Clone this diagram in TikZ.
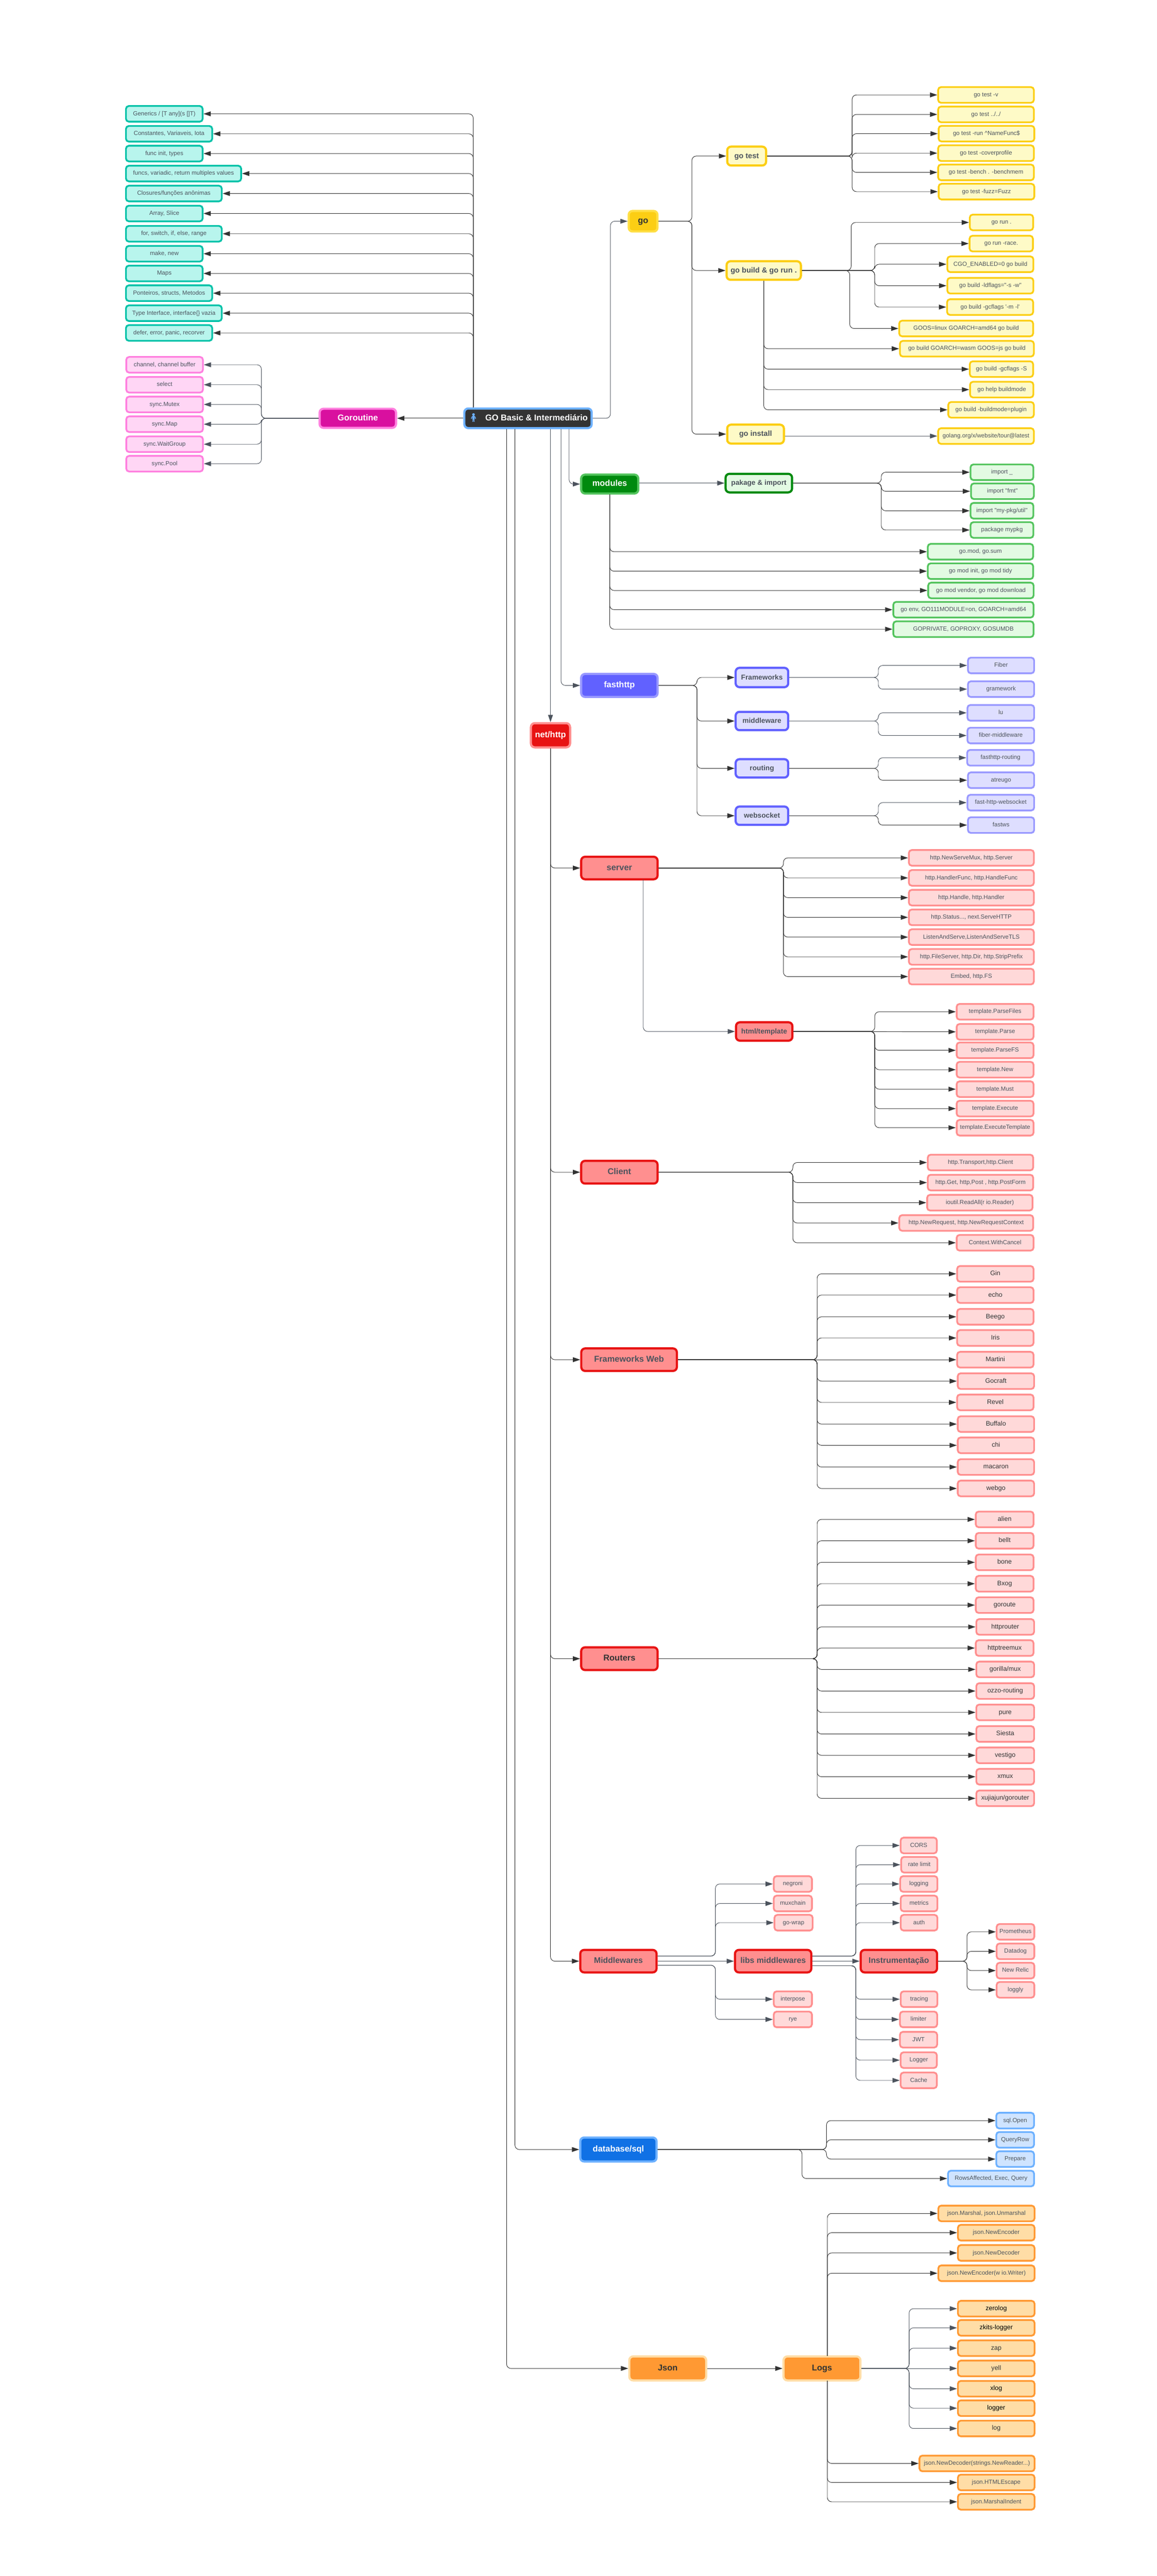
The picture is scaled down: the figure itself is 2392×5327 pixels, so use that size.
\documentclass[tikz,border=0pt]{standalone}
\usepackage{fontspec}
\setmainfont{Liberation Sans}[Ligatures=TeXOff]
\newfontfamily\emojifont{Noto Emoji}
\usetikzlibrary{arrows.meta}

\definecolor{tealedge}{HTML}{00C2A8}
\definecolor{tealfill}{HTML}{B8F5ED}
\definecolor{pinkedge}{HTML}{FF80DF}
\definecolor{pinkfill}{HTML}{FFD6F5}
\definecolor{magenta}{HTML}{D9109F}
\definecolor{goedge}{HTML}{FCCE14}
\definecolor{gofill}{HTML}{FEFAC7}
\definecolor{golight}{HTML}{FFDF45}
\definecolor{greenedge}{HTML}{54C45E}
\definecolor{greenfill}{HTML}{E3FAE3}
\definecolor{greendark}{HTML}{008A0E}
\definecolor{violetedge}{HTML}{9999FF}
\definecolor{violetfill}{HTML}{DEDEFF}
\definecolor{violetdark}{HTML}{6161FF}
\definecolor{rededge}{HTML}{FF8F8F}
\definecolor{redfill}{HTML}{FFD9D9}
\definecolor{reddark}{HTML}{E81313}
\definecolor{blueedge}{HTML}{6DB1FF}
\definecolor{bluefill}{HTML}{CFE4FF}
\definecolor{bluedark}{HTML}{1071E5}
\definecolor{orangeedge}{HTML}{FF9933}
\definecolor{orangefill}{HTML}{FFDDA6}
\definecolor{ink}{HTML}{4C535D}
\definecolor{darkink}{HTML}{333333}

\newcommand{\leaffont}{\fontsize{12.3}{14}\selectfont}
\newcommand{\namefont}{\fontsize{13.4}{15}\selectfont}
\newcommand{\subfont}{\fontsize{15.5}{17}\selectfont\bfseries}
\newcommand{\smallsubfont}{\fontsize{14.6}{17}\selectfont\bfseries}
\newcommand{\midfont}{\fontsize{16.8}{19}\selectfont\bfseries}
\newcommand{\topfont}{\fontsize{17.5}{20}\selectfont\bfseries}

\tikzset{
  leaf/.style={rounded corners=6, line width=3.6, minimum height=32.4, inner sep=0,
    font=\leaffont, text=ink, text height=9, text depth=2.5, anchor=east},
  tealleaf/.style={leaf, draw=tealedge, fill=tealfill, anchor=west},
  pinkleaf/.style={leaf, draw=pinkedge, fill=pinkfill, anchor=west},
  goleaf/.style={leaf, draw=goedge, fill=gofill},
  greenleaf/.style={leaf, draw=greenedge, fill=greenfill},
  violetleaf/.style={leaf, draw=violetedge, fill=violetfill},
  redleaf/.style={leaf, draw=rededge, fill=redfill},
  nameleaf/.style={redleaf, font=\namefont, text=darkink, text height=10, text depth=3},
  blueleaf/.style={leaf, draw=blueedge, fill=bluefill},
  orangeleaf/.style={leaf, draw=orangeedge, fill=orangefill},
  logleaf/.style={orangeleaf, font=\namefont, text=darkink, text height=10, text depth=3},
  title/.style={rounded corners=8, line width=4.5, inner sep=0, font=\topfont,
    text height=12.5, text depth=3.5},
  gotitle/.style={title, draw=goedge, fill=gofill, text=ink, font=\subfont},
  packtitle/.style={title, draw=greendark, fill=greenfill, text=ink, font=\smallsubfont},
  fasttitle/.style={title, draw=violetdark, fill=violetfill, text=ink, font=\smallsubfont},
  redtitle/.style={title, draw=reddark, fill=rededge, text=ink},
  orangetitle/.style={title, draw=orangefill, fill=orangeedge, text=darkink},
  link/.style={draw=darkink, line width=1, rounded corners=9,
    -{Triangle[length=15,width=10]}},
  softlink/.style={link, draw=ink}
}

\begin{document}
\begin{tikzpicture}[x=1pt, y=-1pt]

  \useasboundingbox (0,0) rectangle (2392,5327);

  % Root and its first children
  \node[title, draw=blueedge, fill=darkink, text=white, minimum width=263.4, minimum height=40.5] (root) at (1092,865) {{\emojifont\textcolor{blueedge}{🧍}}\hspace{13pt}GO Basic \& Intermediário};
  \node[title, draw=pinkedge, fill=magenta, text=white, minimum width=158, minimum height=39.5] (goroutine) at (740,865) {Goroutine};
  \node[title, draw=golight, fill=goedge, text=darkink, minimum width=59.5, minimum height=42.5] (go) at (1330,457.5) {go};

  % Basics on the left
  \node[tealleaf, minimum width=158.6] (generics) at (258.7,235.4) {Generics / [T any](s []T)};
  \node[tealleaf, minimum width=178.4] (constantes) at (258.7,276.7) {Constantes, Variaveis, Iota};
  \node[tealleaf, minimum width=158.6] (funcinit) at (258.7,317.6) {func init, types};
  \node[tealleaf, minimum width=238.3] (funcs) at (258.7,358.9) {funcs, variadic, return multiples values};
  \node[tealleaf, minimum width=198.2] (closures) at (258.7,400.2) {Closures/funções anônimas};
  \node[tealleaf, minimum width=158.6] (arrayslice) at (258.7,441.5) {Array, Slice};
  \node[tealleaf, minimum width=198.2] (forswitch) at (258.7,483.4) {for, switch, if, else, range};
  \node[tealleaf, minimum width=158.6] (makenew) at (258.7,524.7) {make, new};
  \node[tealleaf, minimum width=158.6] (maps) at (258.7,565.5) {Maps};
  \node[tealleaf, minimum width=178.4] (ponteiros) at (258.7,606.3) {Ponteiros, structs, Metodos};
  \node[tealleaf, minimum width=198.2] (typeiface) at (258.7,647.7) {Type Interface, interface\{\} vazia};
  \node[tealleaf, minimum width=178.4] (defererror) at (258.7,688.5) {defer, error, panic, recorver};

  % Goroutine leaves
  \node[pinkleaf, minimum width=158.6] (channel) at (259.3,754.3) {channel, channel buffer};
  \node[pinkleaf, minimum width=158.6] (selectcase) at (259.3,795.6) {select};
  \node[pinkleaf, minimum width=158.6] (syncmutex) at (259.3,836.4) {sync.Mutex};
  \node[pinkleaf, minimum width=158.6] (syncmap) at (259.3,877.2) {sync.Map};
  \node[pinkleaf, minimum width=158.6] (syncgroup) at (259.3,918.6) {sync.WaitGroup};
  \node[pinkleaf, minimum width=158.6] (syncpool) at (259.3,958.9) {sync.Pool};

  % go commands
  \node[gotitle, minimum width=80.4, minimum height=39] (gotest) at (1544.2,322.7) {go test};
  \node[gotitle, minimum width=153.6, minimum height=38.3] (gobuild) at (1579.5,559.4) {go build \& go run .};
  \node[gotitle, minimum width=117.3, minimum height=39] (goinstall) at (1562.6,897.7) {go install};

  \node[goleaf, minimum width=198] (testv) at (2140,196.3) {go test -v};
  \node[goleaf, minimum width=198] (testdots) at (2140,236.6) {go test ../../};
  \node[goleaf, minimum width=198] (testrun) at (2141,276.4) {go test -run \textasciicircum NameFunc\$};
  \node[goleaf, minimum width=198] (testcover) at (2140,316.7) {go test -coverprofile};
  \node[goleaf, minimum width=198] (testbench) at (2140,356.5) {go test -bench . -benchmem};
  \node[goleaf, minimum width=198] (testfuzz) at (2141,396.3) {go test -fuzz=Fuzz};

  \node[goleaf, minimum width=131] (runplain) at (2138.5,460) {go run .};
  \node[goleaf, minimum width=131] (runrace) at (2138,503.7) {go run -race.};
  \node[goleaf, minimum width=178] (cgo) at (2139,546.5) {CGO\_ENABLED=0 go build};
  \node[goleaf, minimum width=178] (ldflags) at (2139,590.8) {go build -ldflags="-s -w"};
  \node[goleaf, minimum width=178] (gcflagsm) at (2138.5,635) {go build -gcflags '-m -l'};
  \node[goleaf, minimum width=277] (goos) at (2138.5,679.3) {GOOS=linux GOARCH=amd64 go build};
  \node[goleaf, minimum width=277] (wasm) at (2140,721.1) {go build GOARCH=wasm GOOS=js go build};
  \node[goleaf, minimum width=131] (gcflagss) at (2138.5,763.4) {go build -gcflags -S};
  \node[goleaf, minimum width=131] (buildmode) at (2139,805.7) {go help buildmode};
  \node[goleaf, minimum width=177] (plugin) at (2140,847.5) {go build -buildmode=plugin};
  \node[goleaf, minimum width=198] (tour) at (2140,901.7) {golang.org/x/website/tour@latest};

  % modules
  \node[title, draw=greenedge, fill=greendark, text=white, minimum width=118, minimum height=39] (modules) at (1261,1001) {modules};
  \node[packtitle, minimum width=137.5, minimum height=38.3] (pakage) at (1569.4,999) {pakage \& import};

  \node[greenleaf, minimum width=130] (importblank) at (2139,976.6) {import \_};
  \node[greenleaf, minimum width=130] (importfmt) at (2140,1015.9) {import "fmt"};
  \node[greenleaf, minimum width=130] (importutil) at (2139,1056.2) {import "my-pkg/util"};
  \node[greenleaf, minimum width=130] (packagemy) at (2139,1096) {package mypkg};
  \node[greenleaf, minimum width=218] (gomodsum) at (2138.6,1140.9) {go.mod, go.sum};
  \node[greenleaf, minimum width=218] (gomodinit) at (2138.6,1181.2) {go mod init, go mod tidy};
  \node[greenleaf, minimum width=218] (gomodvendor) at (2139.5,1221) {go mod vendor, go mod download};
  \node[greenleaf, minimum width=290] (goenv) at (2139.3,1260.8) {go env, GO111MODULE=on, GOARCH=amd64};
  \node[greenleaf, minimum width=290] (goprivate) at (2139.3,1301.1) {GOPRIVATE, GOPROXY, GOSUMDB};

  % fasthttp
  \node[title, draw=violetedge, fill=violetdark, text=white, minimum width=158, minimum height=47.6] (fasthttp) at (1281,1417.4) {fasthttp};
  \node[fasttitle, minimum width=108.7, minimum height=40] (fastframeworks) at (1575.8,1401) {Frameworks};
  \node[fasttitle, minimum width=108.7, minimum height=38] (fastmiddleware) at (1575.8,1491) {middleware};
  \node[fasttitle, minimum width=108.7, minimum height=38] (fastrouting) at (1575.8,1588.9) {routing};
  \node[fasttitle, minimum width=108.7, minimum height=38] (fastwebsocket) at (1575.8,1686.8) {websocket};

  \node[violetleaf, minimum width=137] (fiber) at (2140.6,1376.1) {Fiber};
  \node[violetleaf, minimum width=137] (gramework) at (2140.6,1425.1) {gramework};
  \node[violetleaf, minimum width=138] (lu) at (2140.6,1474.1) {lu};
  \node[violetleaf, minimum width=138] (fibermiddleware) at (2140.6,1521) {fiber-middleware};
  \node[violetleaf, minimum width=138] (fastrout) at (2140,1567) {fasthttp-routing};
  \node[violetleaf, minimum width=137] (atreugo) at (2140.6,1613.4) {atreugo};
  \node[violetleaf, minimum width=138] (fastsocket) at (2140.6,1659.8) {fast-http-websocket};
  \node[violetleaf, minimum width=137] (fastws) at (2140.6,1706.2) {fastws};

  % net/http
  \node[title, draw=rededge, fill=reddark, text=white, minimum width=81, minimum height=50] (nethttp) at (1138.5,1520.5) {net/http};
  \node[redtitle, minimum width=158, minimum height=46.5] (server) at (1281,1795) {server};
  \node[redtitle, font=\smallsubfont, minimum width=116.6, minimum height=38] (htmltemplate) at (1580.5,2133) {html/template};

  \node[redleaf, minimum width=258.5] (newservemux) at (2140,1774) {http.NewServeMux, http.Server};
  \node[redleaf, minimum width=258.5] (handlerfunc) at (2140,1815.4) {http.HandlerFunc, http.HandleFunc};
  \node[redleaf, minimum width=258.5] (handle) at (2140,1856.3) {http.Handle, http.Handler};
  \node[redleaf, minimum width=258.5] (status) at (2140,1897) {http.Status..., next.ServeHTTP};
  \node[redleaf, minimum width=258.5] (listen) at (2140,1937.9) {ListenAndServe,ListenAndServeTLS};
  \node[redleaf, minimum width=258.5] (fileserver) at (2140,1978.7) {http.FileServer, http.Dir, http.StripPrefix};
  \node[redleaf, minimum width=258.5] (embed) at (2140,2019.5) {Embed, http.FS};

  \node[redleaf, minimum width=159] (parsefiles) at (2139.3,2092.2) {template.ParseFiles};
  \node[redleaf, minimum width=159] (parse) at (2139.3,2133.7) {template.Parse};
  \node[redleaf, minimum width=159] (parsefs) at (2139.3,2172) {template.ParseFS};
  \node[redleaf, minimum width=159] (tplnew) at (2139.3,2212) {template.New};
  \node[redleaf, minimum width=159] (tplmust) at (2139.3,2252.3) {template.Must};
  \node[redleaf, minimum width=159] (tplexecute) at (2139.3,2292.5) {template.Execute};
  \node[redleaf, minimum width=159] (tplexectpl) at (2139.3,2332) {template.ExecuteTemplate};

  % Client
  \node[redtitle, minimum width=158, minimum height=47] (client) at (1281,2424) {Client};
  \node[redleaf, minimum width=218] (transport) at (2138.6,2404) {http.Transport,http.Client};
  \node[redleaf, minimum width=218] (httpget) at (2138.6,2445.5) {http.Get, http,Post , http.PostForm};
  \node[redleaf, minimum width=218] (readall) at (2137.3,2487) {ioutil.ReadAll(r io.Reader)};
  \node[redleaf, minimum width=277] (newrequest) at (2138.6,2529) {http.NewRequest, http.NewRequestContext};
  \node[redleaf, minimum width=159] (withcancel) at (2139.3,2569.9) {Context.WithCancel};

  % Web frameworks
  \node[redtitle, minimum width=197.7, minimum height=46.5] (frameworksweb) at (1301,2811.7) {Frameworks Web};
  \node[nameleaf, minimum width=158] (gin) at (2139.3,2634.2) {Gin};
  \node[nameleaf, minimum width=158] (echo) at (2139.3,2678.1) {echo};
  \node[nameleaf, minimum width=158] (beego) at (2139.3,2723) {Beego};
  \node[nameleaf, minimum width=158] (iris) at (2139.3,2766.8) {Iris};
  \node[nameleaf, minimum width=158] (martini) at (2139.3,2811.7) {Martini};
  \node[nameleaf, minimum width=158] (gocraft) at (2140.5,2856.1) {Gocraft};
  \node[nameleaf, minimum width=158] (revel) at (2139.3,2900) {Revel};
  \node[nameleaf, minimum width=158] (buffalo) at (2140.5,2944.9) {Buffalo};
  \node[nameleaf, minimum width=158] (chi) at (2140.5,2988.8) {chi};
  \node[nameleaf, minimum width=158] (macaron) at (2140.5,3033.7) {macaron};
  \node[nameleaf, minimum width=158] (webgo) at (2140.5,3078) {webgo};

  % Routers
  \node[redtitle, text=darkink, minimum width=158, minimum height=47] (routers) at (1281,3430) {Routers};
  \node[nameleaf, minimum width=119.5] (alien) at (2139.3,3142) {alien};
  \node[nameleaf, minimum width=119.5] (bellt) at (2139.3,3186.2) {bellt};
  \node[nameleaf, minimum width=119.5] (bone) at (2139.3,3230.8) {bone};
  \node[nameleaf, minimum width=119.5] (bxog) at (2139.3,3275) {Bxog};
  \node[nameleaf, minimum width=119.5] (goroute) at (2139.3,3319.2) {goroute};
  \node[nameleaf, minimum width=119.5] (httprouter) at (2140.5,3364.3) {httprouter};
  \node[nameleaf, minimum width=119.5] (httptreemux) at (2139.3,3408) {httptreemux};
  \node[nameleaf, minimum width=119.5] (gorillamux) at (2140.5,3452.2) {gorilla/mux};
  \node[nameleaf, minimum width=119.5] (ozzorouting) at (2140.5,3496.9) {ozzo-routing};
  \node[nameleaf, minimum width=119.5] (pure) at (2140.5,3541.1) {pure};
  \node[nameleaf, minimum width=119.5] (siesta) at (2140.5,3585.7) {Siesta};
  \node[nameleaf, minimum width=119.5] (vestigo) at (2140.5,3629.9) {vestigo};
  \node[nameleaf, minimum width=119.5] (xmux) at (2140.5,3674.1) {xmux};
  \node[nameleaf, minimum width=119.5] (gorouter) at (2140.5,3718.8) {xujiajun/gorouter};

  % Middlewares
  \node[redtitle, font=\midfont, minimum width=157.8, minimum height=46.5] (middlewares) at (1279,4055.5) {Middlewares};
  \node[redtitle, font=\midfont, minimum width=157.8, minimum height=46.5] (libsmiddlewares) at (1599,4055.5) {libs middlewares};
  \node[redtitle, font=\midfont, minimum width=157.8, minimum height=46.5] (instrumentacao) at (1859,4055.5) {Instrumentação};

  \node[redleaf, minimum width=79] (negroni) at (1681,3895.9) {negroni};
  \node[redleaf, minimum width=79] (muxchain) at (1681,3936.2) {muxchain};
  \node[redleaf, minimum width=79] (gowrap) at (1682.5,3976) {go-wrap};
  \node[redleaf, minimum width=79] (interpose) at (1681,4134.2) {interpose};
  \node[redleaf, minimum width=79] (rye) at (1681,4176) {rye};

  \node[redleaf, minimum width=75] (cors) at (1939.4,3816.3) {CORS};
  \node[redleaf, minimum width=75] (ratelimit) at (1940.6,3856.1) {rate limit};
  \node[redleaf, minimum width=77] (logging) at (1940.6,3895.9) {logging};
  \node[redleaf, minimum width=76] (metrics) at (1940.6,3936.2) {metrics};
  \node[redleaf, minimum width=76] (auth) at (1940.6,3976) {auth};
  \node[redleaf, minimum width=76] (tracing) at (1940.6,4134.2) {tracing};
  \node[redleaf, minimum width=77] (limiter) at (1940,4176) {limiter};
  \node[redleaf, minimum width=77] (jwt) at (1940,4217.9) {JWT};
  \node[redleaf, minimum width=75] (logger) at (1939.4,4260.2) {Logger};
  \node[redleaf, minimum width=75] (cache) at (1939.4,4302) {Cache};

  \node[redleaf, minimum width=78] (prometheus) at (2141,3994.9) {Prometheus};
  \node[redleaf, minimum width=78] (datadog) at (2141,4035.2) {Datadog};
  \node[redleaf, minimum width=78] (newrelic) at (2141,4075) {New Relic};
  \node[redleaf, minimum width=78] (loggly) at (2141,4114.8) {loggly};

  % database/sql
  \node[title, draw=blueedge, fill=bluedark, text=white, minimum width=157.8, minimum height=49.5] (database) at (1279,4445) {database/sql};
  \node[blueleaf, minimum width=78] (sqlopen) at (2140.3,4385.2) {sql.Open};
  \node[blueleaf, minimum width=78] (queryrow) at (2140.3,4425) {QueryRow};
  \node[blueleaf, minimum width=78] (prepare) at (2140.3,4464.8) {Prepare};
  \node[blueleaf, minimum width=178] (rowsaffected) at (2140.4,4505) {RowsAffected, Exec, Query};

  % Json and Logs
  \node[orangetitle, minimum width=159, minimum height=49.6] (json) at (1381,4897.7) {Json};
  \node[orangetitle, minimum width=159, minimum height=49.6] (logs) at (1700,4897.7) {Logs};

  \node[orangeleaf, minimum width=199] (marshal) at (2141.4,4577.2) {json.Marshal, json.Unmarshal};
  \node[orangeleaf, minimum width=158.5] (newencoder) at (2141.4,4617) {json.NewEncoder};
  \node[orangeleaf, minimum width=158.5] (newdecoder) at (2141.4,4658.9) {json.NewDecoder};
  \node[orangeleaf, minimum width=199] (encoderwriter) at (2141.4,4700.9) {json.NewEncoder(w io.Writer)};

  \node[logleaf, text=black, minimum width=158.5] (zerolog) at (2141.4,4774.1) {zerolog};
  \node[logleaf, text=black, minimum width=158.5] (zkitslogger) at (2141.4,4813.8) {zkits-logger};
  \node[logleaf, minimum width=158.5] (zap) at (2141.4,4855.8) {zap};
  \node[logleaf, minimum width=158.5] (yell) at (2141.4,4897.7) {yell};
  \node[logleaf, text=black, minimum width=158.5] (xlog) at (2141.4,4939.7) {xlog};
  \node[logleaf, text=black, minimum width=158.5] (loggerlib) at (2141.4,4979.9) {logger};
  \node[logleaf, minimum width=158.5] (loglib) at (2141.4,5021.9) {log};

  \node[orangeleaf, minimum width=238] (decoderstrings) at (2141.4,5094.2) {json.NewDecoder(strings.NewReader...)};
  \node[orangeleaf, minimum width=158.5] (htmlescape) at (2141.4,5133.5) {json.HTMLEscape};
  \node[orangeleaf, minimum width=158.5] (marshalindent) at (2141.4,5173.5) {json.MarshalIndent};

  % Free ends and branch points of the connectors
  \coordinate (roottop) at (978.7,842);
  \coordinate (rootgo) at (1262.4,865);
  \coordinate (rootmodules) at (1177,887);
  \coordinate (rootfast) at (1160.3,887);
  \coordinate (rootdb) at (1065,887);
  \coordinate (rootjson) at (1047.7,887);
  \coordinate (goroutinebus) at (540.6,865);
  \coordinate (gobus) at (1431,457.5);
  \coordinate (testbus) at (1762.3,322.7);
  \coordinate (runbus) at (1760.4,559.4);
  \coordinate (racebus) at (1809,559.4);
  \coordinate (goosbus) at (1757.4,559.4);
  \coordinate (pakagebus) at (1822.6,999);
  \coordinate (fastbus) at (1441.5,1417.4);
  \coordinate (frameworksbus) at (1816.5,1401);
  \coordinate (middlewarebus) at (1816.5,1491);
  \coordinate (routingbus) at (1816.5,1588.9);
  \coordinate (websocketbus) at (1816.5,1686.8);
  \coordinate (serverbus) at (1620.3,1795);
  \coordinate (servertail) at (1330.4,1818);
  \coordinate (templatebus) at (1809.2,2133);
  \coordinate (clientbus) at (1639.7,2424);
  \coordinate (frameworkswebbus) at (1690,2811.7);
  \coordinate (routersbus) at (1690,3430);
  \coordinate (mwup) at (1479.5,4044.9);
  \coordinate (mwdown) at (1479.5,4064);
  \coordinate (libsup) at (1770,4044.9);
  \coordinate (libsdown) at (1770,4065);
  \coordinate (instrumentbus) at (1999.9,4055.5);
  \coordinate (dbbus) at (1709.3,4445);
  \coordinate (dbrows) at (1658.6,4445);
  \coordinate (logsup) at (1711,4872);
  \coordinate (logsdown) at (1711,4923);
  \coordinate (logsbus) at (1880.2,4897.7);

  % Root to the basics
  \draw[link] (roottop) |- (generics.east);
  \draw[link] (roottop) |- (constantes.east);
  \draw[link] (roottop) |- (funcinit.east);
  \draw[link] (roottop) |- (funcs.east);
  \draw[link] (roottop) |- (closures.east);
  \draw[link] (roottop) |- (arrayslice.east);
  \draw[link] (roottop) |- (forswitch.east);
  \draw[link] (roottop) |- (makenew.east);
  \draw[link] (roottop) |- (maps.east);
  \draw[link] (roottop) |- (ponteiros.east);
  \draw[link] (roottop) |- (typeiface.east);
  \draw[link] (roottop) |- (defererror.east);

  % Goroutine branch
  \draw[link] (root.west) -- (goroutine.east);
  \draw[softlink] (goroutine.west) -- (goroutinebus) |- (channel.east);
  \draw[softlink] (goroutine.west) -- (goroutinebus) |- (selectcase.east);
  \draw[softlink] (goroutine.west) -- (goroutinebus) |- (syncmutex.east);
  \draw[softlink] (goroutine.west) -- (goroutinebus) |- (syncmap.east);
  \draw[softlink] (goroutine.west) -- (goroutinebus) |- (syncgroup.east);
  \draw[softlink] (goroutine.west) -- (goroutinebus) |- (syncpool.east);

  % go branch
  \draw[softlink] (root.east) -- (rootgo) |- (go.west);
  \draw[link] (go.east) -- (gobus) |- (gotest.west);
  \draw[link] (go.east) -- (gobus) |- (gobuild.west);
  \draw[link] (go.east) -- (gobus) |- (goinstall.west);
  \draw[link] (gotest.east) -- (testbus) |- (testv.west);
  \draw[link] (gotest.east) -- (testbus) |- (testdots.west);
  \draw[link] (gotest.east) -- (testbus) |- (testrun.west);
  \draw[link] (gotest.east) -- (testbus) |- (testcover.west);
  \draw[link] (gotest.east) -- (testbus) |- (testbench.west);
  \draw[link] (gotest.east) -- (testbus) |- (testfuzz.west);
  \draw[link] (gobuild.east) -- (runbus) |- (runplain.west);
  \draw[link] (gobuild.east) -- (racebus) |- (runrace.west);
  \draw[link] (gobuild.east) -- (racebus) |- (cgo.west);
  \draw[link] (gobuild.east) -- (racebus) |- (ldflags.west);
  \draw[link] (gobuild.east) -- (racebus) |- (gcflagsm.west);
  \draw[link] (gobuild.east) -- (goosbus) |- (goos.west);
  \draw[link] (gobuild.south) |- (wasm.west);
  \draw[link] (gobuild.south) |- (gcflagss.west);
  \draw[link] (gobuild.south) |- (buildmode.west);
  \draw[link] (gobuild.south) |- (plugin.west);
  \draw[softlink] (goinstall.east |- tour.west) -- (tour.west);

  % modules branch
  \draw[softlink] (rootmodules) |- (modules.west);
  \draw[softlink] (modules.east |- pakage.west) -- (pakage.west);
  \draw[link] (pakage.east) -- (pakagebus) |- (importblank.west);
  \draw[link] (pakage.east) -- (pakagebus) |- (importfmt.west);
  \draw[link] (pakage.east) -- (pakagebus) |- (importutil.west);
  \draw[link] (pakage.east) -- (pakagebus) |- (packagemy.west);
  \draw[link] (modules.south) |- (gomodsum.west);
  \draw[link] (modules.south) |- (gomodinit.west);
  \draw[link] (modules.south) |- (gomodvendor.west);
  \draw[link] (modules.south) |- (goenv.west);
  \draw[link] (modules.south) |- (goprivate.west);

  % fasthttp branch
  \draw[softlink] (rootfast) |- (fasthttp.west);
  \draw[link] (fasthttp.east) -- (fastbus) |- (fastframeworks.west);
  \draw[link] (fasthttp.east) -- (fastbus) |- (fastmiddleware.west);
  \draw[link] (fasthttp.east) -- (fastbus) |- (fastrouting.west);
  \draw[link] (fasthttp.east) -- (fastbus) |- (fastwebsocket.west);
  \draw[softlink] (fastframeworks.east) -- (frameworksbus) |- (fiber.west);
  \draw[softlink] (fastframeworks.east) -- (frameworksbus) |- (gramework.west);
  \draw[softlink] (fastmiddleware.east) -- (middlewarebus) |- (lu.west);
  \draw[softlink] (fastmiddleware.east) -- (middlewarebus) |- (fibermiddleware.west);
  \draw[softlink] (fastrouting.east) -- (routingbus) |- (fastrout.west);
  \draw[link] (fastrouting.east) -- (routingbus) |- (atreugo.west);
  \draw[softlink] (fastwebsocket.east) -- (websocketbus) |- (fastsocket.west);
  \draw[link] (fastwebsocket.east) -- (websocketbus) |- (fastws.west);

  % net/http branch
  \draw[softlink] (nethttp.north |- root.south) -- (nethttp.north);
  \draw[link] (nethttp.south) |- (server.west);
  \draw[link] (nethttp.south) |- (client.west);
  \draw[link] (nethttp.south) |- (frameworksweb.west);
  \draw[link] (nethttp.south) |- (routers.west);
  \draw[link] (nethttp.south) |- (middlewares.west);

  \draw[link] (server.east) -- (serverbus) |- (newservemux.west);
  \draw[link] (server.east) -- (serverbus) |- (handlerfunc.west);
  \draw[link] (server.east) -- (serverbus) |- (handle.west);
  \draw[link] (server.east) -- (serverbus) |- (status.west);
  \draw[link] (server.east) -- (serverbus) |- (listen.west);
  \draw[link] (server.east) -- (serverbus) |- (fileserver.west);
  \draw[link] (server.east) -- (serverbus) |- (embed.west);
  \draw[softlink] (servertail) |- (htmltemplate.west);
  \draw[link] (htmltemplate.east) -- (templatebus) |- (parsefiles.west);
  \draw[link] (htmltemplate.east) -- (parse.west);
  \draw[link] (htmltemplate.east) -- (templatebus) |- (parsefs.west);
  \draw[link] (htmltemplate.east) -- (templatebus) |- (tplnew.west);
  \draw[link] (htmltemplate.east) -- (templatebus) |- (tplmust.west);
  \draw[link] (htmltemplate.east) -- (templatebus) |- (tplexecute.west);
  \draw[link] (htmltemplate.east) -- (templatebus) |- (tplexectpl.west);

  \draw[link] (client.east) -- (clientbus) |- (transport.west);
  \draw[link] (client.east) -- (clientbus) |- (httpget.west);
  \draw[link] (client.east) -- (clientbus) |- (readall.west);
  \draw[link] (client.east) -- (clientbus) |- (newrequest.west);
  \draw[link] (client.east) -- (clientbus) |- (withcancel.west);

  \draw[link] (frameworksweb.east) -- (frameworkswebbus) |- (gin.west);
  \draw[link] (frameworksweb.east) -- (frameworkswebbus) |- (echo.west);
  \draw[link] (frameworksweb.east) -- (frameworkswebbus) |- (beego.west);
  \draw[link] (frameworksweb.east) -- (frameworkswebbus) |- (iris.west);
  \draw[link] (frameworksweb.east) -- (martini.west);
  \draw[link] (frameworksweb.east) -- (frameworkswebbus) |- (gocraft.west);
  \draw[link] (frameworksweb.east) -- (frameworkswebbus) |- (revel.west);
  \draw[link] (frameworksweb.east) -- (frameworkswebbus) |- (buffalo.west);
  \draw[link] (frameworksweb.east) -- (frameworkswebbus) |- (chi.west);
  \draw[link] (frameworksweb.east) -- (frameworkswebbus) |- (macaron.west);
  \draw[link] (frameworksweb.east) -- (frameworkswebbus) |- (webgo.west);

  \draw[link] (routers.east) -- (routersbus) |- (alien.west);
  \draw[link] (routers.east) -- (routersbus) |- (bellt.west);
  \draw[link] (routers.east) -- (routersbus) |- (bone.west);
  \draw[link] (routers.east) -- (routersbus) |- (bxog.west);
  \draw[link] (routers.east) -- (routersbus) |- (goroute.west);
  \draw[link] (routers.east) -- (routersbus) |- (httprouter.west);
  \draw[link] (routers.east) -- (routersbus) |- (httptreemux.west);
  \draw[link] (routers.east) -- (routersbus) |- (gorillamux.west);
  \draw[link] (routers.east) -- (routersbus) |- (ozzorouting.west);
  \draw[link] (routers.east) -- (routersbus) |- (pure.west);
  \draw[link] (routers.east) -- (routersbus) |- (siesta.west);
  \draw[link] (routers.east) -- (routersbus) |- (vestigo.west);
  \draw[link] (routers.east) -- (routersbus) |- (xmux.west);
  \draw[link] (routers.east) -- (routersbus) |- (gorouter.west);

  % Middlewares branch
  \draw[softlink] (middlewares.east) -- (libsmiddlewares.west);
  \draw[softlink] (middlewares.east |- mwup) -- (mwup) |- (negroni.west);
  \draw[softlink] (middlewares.east |- mwup) -- (mwup) |- (muxchain.west);
  \draw[softlink] (middlewares.east |- mwup) -- (mwup) |- (gowrap.west);
  \draw[softlink] (middlewares.east |- mwdown) -- (mwdown) |- (interpose.west);
  \draw[softlink] (middlewares.east |- mwdown) -- (mwdown) |- (rye.west);
  \draw[softlink] (libsmiddlewares.east) -- (instrumentacao.west);
  \draw[softlink] (libsmiddlewares.east |- libsup) -- (libsup) |- (cors.west);
  \draw[softlink] (libsmiddlewares.east |- libsup) -- (libsup) |- (ratelimit.west);
  \draw[softlink] (libsmiddlewares.east |- libsup) -- (libsup) |- (logging.west);
  \draw[softlink] (libsmiddlewares.east |- libsup) -- (libsup) |- (metrics.west);
  \draw[softlink] (libsmiddlewares.east |- libsup) -- (libsup) |- (auth.west);
  \draw[softlink] (libsmiddlewares.east |- libsdown) -- (libsdown) |- (tracing.west);
  \draw[softlink] (libsmiddlewares.east |- libsdown) -- (libsdown) |- (limiter.west);
  \draw[softlink] (libsmiddlewares.east |- libsdown) -- (libsdown) |- (jwt.west);
  \draw[softlink] (libsmiddlewares.east |- libsdown) -- (libsdown) |- (logger.west);
  \draw[softlink] (libsmiddlewares.east |- libsdown) -- (libsdown) |- (cache.west);
  \draw[link] (instrumentacao.east) -- (instrumentbus) |- (prometheus.west);
  \draw[link] (instrumentacao.east) -- (instrumentbus) |- (datadog.west);
  \draw[link] (instrumentacao.east) -- (instrumentbus) |- (newrelic.west);
  \draw[link] (instrumentacao.east) -- (instrumentbus) |- (loggly.west);

  % database/sql branch
  \draw[link] (rootdb) |- (database.west);
  \draw[link] (database.east) -- (dbbus) |- (sqlopen.west);
  \draw[link] (database.east) -- (dbbus) |- (queryrow.west);
  \draw[link] (database.east) -- (dbbus) |- (prepare.west);
  \draw[link] (database.east) -- (dbrows) |- (rowsaffected.west);

  % Json and Logs branch
  \draw[link] (rootjson) |- (json.west);
  \draw[link] (json.east) -- (logs.west);
  \draw[link] (logsup) |- (marshal.west);
  \draw[link] (logsup) |- (newencoder.west);
  \draw[link] (logsup) |- (newdecoder.west);
  \draw[link] (logsup) |- (encoderwriter.west);
  \draw[softlink] (logs.east) -- (logsbus) |- (zerolog.west);
  \draw[softlink] (logs.east) -- (logsbus) |- (zkitslogger.west);
  \draw[softlink] (logs.east) -- (logsbus) |- (zap.west);
  \draw[softlink] (logs.east) -- (yell.west);
  \draw[softlink] (logs.east) -- (logsbus) |- (xlog.west);
  \draw[softlink] (logs.east) -- (logsbus) |- (loggerlib.west);
  \draw[softlink] (logs.east) -- (logsbus) |- (loglib.west);
  \draw[link] (logsdown) |- (decoderstrings.west);
  \draw[link] (logsdown) |- (htmlescape.west);
  \draw[link] (logsdown) |- (marshalindent.west);

\end{tikzpicture}
\end{document}
